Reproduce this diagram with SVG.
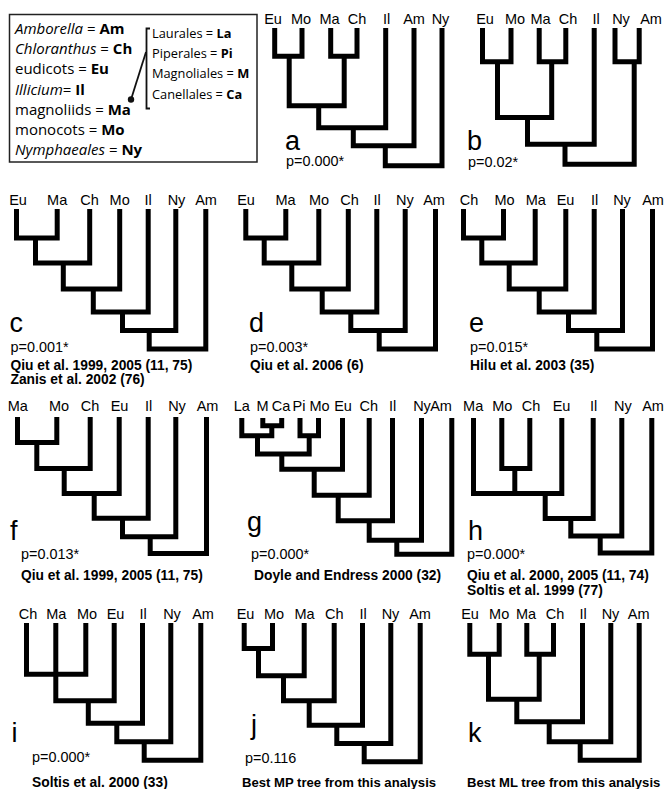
<svg xmlns="http://www.w3.org/2000/svg" width="665" height="789" viewBox="0 0 665 789">
<style>
.br{fill:none;stroke:#000;stroke-width:5;stroke-linejoin:miter;stroke-linecap:butt}
text{font-family:"Liberation Sans",Arial,Helvetica,sans-serif;fill:#000}
.lab{font-size:14.5px;text-anchor:middle}
.big{font-size:27px}
.pv{font-size:14.4px}
.cite{font-size:13.8px;font-weight:bold}
.cs{font-size:13.1px}
.leg{font-family:"Open Sans","Noto Sans",sans-serif;font-size:15px}
.legr{font-family:"Open Sans","Noto Sans",sans-serif;font-size:12.8px}
.it{font-style:italic}
.b{font-weight:bold}
.thin{fill:none;stroke:#111;stroke-width:1.8}
</style>
<rect width="665" height="789" fill="#fff"/>

<g id="legend">
<rect x="9.5" y="14.5" width="247.5" height="147.5" fill="none" stroke="#222" stroke-width="1.5"/>
<text class="leg" x="15" y="34"><tspan class="it">Amborella</tspan> = <tspan class="b">Am</tspan></text>
<text class="leg" x="15" y="54.2"><tspan class="it">Chloranthus</tspan> = <tspan class="b">Ch</tspan></text>
<text class="leg" x="15" y="74.4">eudicots = <tspan class="b">Eu</tspan></text>
<text class="leg" x="15" y="94.6"><tspan class="it">Illicium</tspan>= <tspan class="b">Il</tspan></text>
<text class="leg" x="15" y="114.8">magnoliids = <tspan class="b">Ma</tspan></text>
<text class="leg" x="15" y="135">monocots = <tspan class="b">Mo</tspan></text>
<text class="leg" x="15" y="155.2"><tspan class="it">Nymphaeales</tspan> = <tspan class="b">Ny</tspan></text>
<text class="legr" x="152" y="38.3">Laurales = <tspan class="b">La</tspan></text>
<text class="legr" x="152" y="58.3">Piperales = <tspan class="b">Pi</tspan></text>
<text class="legr" x="152" y="78.3">Magnoliales = <tspan class="b">M</tspan></text>
<text class="legr" x="152" y="98.6">Canellales = <tspan class="b">Ca</tspan></text>
</g>

<g id="connectors">
<path class="thin" d="M150 28.5 H146.5 V108.5 H150"/>
<path class="thin" stroke-width="2" d="M146 52 L131 99.5"/>
<circle cx="131" cy="99.5" r="3.2" fill="#111"/>
</g>

<g id="tree-a">
<g class="branches">
<path class="br" d="M274.7 28 V56.3 H302 V28"/>
<path class="br" d="M330.7 28 V56.3 H357 V28"/>
<path class="br" d="M289.2 56.3 V105.8 H344.2 V56.3"/>
<path class="br" d="M318.7 105.8 V127.8 H385.7 V28"/>
<path class="br" d="M353.3 127.8 V145.8 H414 V28"/>
<path class="br" d="M385.3 145.8 V165.7 H442 V28"/>
</g>
<text class="lab" x="273" y="23.5">Eu</text>
<text class="lab" x="301" y="23.5">Mo</text>
<text class="lab" x="329.5" y="23.5">Ma</text>
<text class="lab" x="357" y="23.5">Ch</text>
<text class="lab" x="386.5" y="23.5">Il</text>
<text class="lab" x="414" y="23.5">Am</text>
<text class="lab" x="440.5" y="23.5">Ny</text>
<text class="big" x="285" y="149.5">a</text>
<text class="pv" x="286" y="166">p=0.000*</text>
</g>

<g id="tree-b">
<g class="branches">
<path class="br" d="M482.5 28 V61.8 H511 V28"/>
<path class="br" d="M539.2 28 V61.8 H565.8 V28"/>
<path class="br" d="M615 28 V61.8 H639.2 V28"/>
<path class="br" d="M497.5 61.8 V117.5 H551.7 V61.8"/>
<path class="br" d="M527.5 117.5 V144.2 H594.2 V28"/>
<path class="br" d="M565 144.2 V164.2 H634.2 V61.8"/>
</g>
<text class="lab" x="485" y="23.5">Eu</text>
<text class="lab" x="515" y="23.5">Mo</text>
<text class="lab" x="540.5" y="23.5">Ma</text>
<text class="lab" x="568" y="23.5">Ch</text>
<text class="lab" x="596" y="23.5">Il</text>
<text class="lab" x="621" y="23.5">Ny</text>
<text class="lab" x="651" y="23.5">Am</text>
<text class="big" x="467" y="149.8">b</text>
<text class="pv" x="468" y="166.5">p=0.02*</text>
</g>

<g id="tree-c">
<g class="branches">
<path class="br" d="M16.5 209 V238 H57.2 V209"/>
<path class="br" d="M35.5 238 V263 H89.7 V209"/>
<path class="br" d="M63.3 263 V289 H119.7 V209"/>
<path class="br" d="M93.3 289 V312 H148.2 V209"/>
<path class="br" d="M122.5 312 V330.5 H175.8 V209"/>
<path class="br" d="M149.2 330.5 V349 H205.8 V209"/>
</g>
<text class="lab" x="18" y="204.5">Eu</text>
<text class="lab" x="57.2" y="204.5">Ma</text>
<text class="lab" x="89.5" y="204.5">Ch</text>
<text class="lab" x="119.7" y="204.5">Mo</text>
<text class="lab" x="148.2" y="204.5">Il</text>
<text class="lab" x="176.5" y="204.5">Ny</text>
<text class="lab" x="206" y="204.5">Am</text>
<text class="big" x="9.5" y="332">c</text>
<text class="pv" x="10.5" y="352">p=0.001*</text>
<text class="cite" x="10.5" y="370">Qiu et al. 1999, 2005 (11, 75)</text>
<text class="cite" x="10.5" y="383.5">Zanis et al. 2002 (76)</text>
</g>

<g id="tree-d">
<g class="branches">
<path class="br" d="M245.8 209 V238 H285.8 V209"/>
<path class="br" d="M264.2 238 V263 H318.8 V209"/>
<path class="br" d="M291.8 263 V289 H348.3 V209"/>
<path class="br" d="M322.2 289 V312 H376.8 V209"/>
<path class="br" d="M350.8 312 V330.5 H405.2 V209"/>
<path class="br" d="M379.2 330.5 V349 H435.5 V209"/>
</g>
<text class="lab" x="246" y="204.5">Eu</text>
<text class="lab" x="285.5" y="204.5">Ma</text>
<text class="lab" x="319" y="204.5">Mo</text>
<text class="lab" x="349.5" y="204.5">Ch</text>
<text class="lab" x="377" y="204.5">Il</text>
<text class="lab" x="404.8" y="204.5">Ny</text>
<text class="lab" x="434" y="204.5">Am</text>
<text class="big" x="249" y="332">d</text>
<text class="pv" x="250" y="352">p=0.003*</text>
<text class="cite" x="250" y="370">Qiu et al. 2006 (6)</text>
</g>

<g id="tree-e">
<g class="branches">
<path class="br" d="M463.5 209 V238 H503.5 V209"/>
<path class="br" d="M481.8 238 V263 H535.2 V209"/>
<path class="br" d="M509.2 263 V289 H565.8 V209"/>
<path class="br" d="M539.2 289 V312 H594.2 V209"/>
<path class="br" d="M568.5 312 V330.5 H622.5 V209"/>
<path class="br" d="M596.8 330.5 V349 H652.5 V209"/>
</g>
<text class="lab" x="469" y="204.5">Ch</text>
<text class="lab" x="504.5" y="204.5">Mo</text>
<text class="lab" x="535.8" y="204.5">Ma</text>
<text class="lab" x="565.5" y="204.5">Eu</text>
<text class="lab" x="594.5" y="204.5">Il</text>
<text class="lab" x="622" y="204.5">Ny</text>
<text class="lab" x="653" y="204.5">Am</text>
<text class="big" x="469" y="332">e</text>
<text class="pv" x="470" y="352">p=0.015*</text>
<text class="cite" x="470" y="370">Hilu et al. 2003 (35)</text>
</g>

<g id="tree-f">
<g class="branches">
<path class="br" d="M17.5 417 V442.5 H56.8 V417"/>
<path class="br" d="M36.8 442.5 V468.5 H90.2 V417"/>
<path class="br" d="M64.2 468.5 V493.5 H119.2 V417"/>
<path class="br" d="M94.2 493.5 V518.2 H148.2 V417"/>
<path class="br" d="M122.5 518.2 V536.8 H175.8 V417"/>
<path class="br" d="M150.2 536.8 V553.5 H206.5 V417"/>
</g>
<text class="lab" x="17.8" y="410.5">Ma</text>
<text class="lab" x="59" y="410.5">Mo</text>
<text class="lab" x="90" y="410.5">Ch</text>
<text class="lab" x="119.5" y="410.5">Eu</text>
<text class="lab" x="148.5" y="410.5">Il</text>
<text class="lab" x="177" y="410.5">Ny</text>
<text class="lab" x="207.5" y="410.5">Am</text>
<text class="big" x="10" y="540">f</text>
<text class="pv" x="21" y="559">p=0.013*</text>
<text class="cite" x="21" y="580">Qiu et al. 1999, 2005 (11, 75)</text>
</g>

<g id="tree-g">
<g class="branches">
<path class="br" d="M262.8 418 V425.8 H281.7 V418"/>
<path class="br" d="M241.8 418 V435.8 H271.8 V425.8"/>
<path class="br" d="M300 418 V435.8 H318.5 V418"/>
<path class="br" d="M257.5 435.8 V454 H309.2 V435.8"/>
<path class="br" d="M281.8 454 V469.2 H342.5 V418"/>
<path class="br" d="M314.2 469.2 V495.2 H369.2 V418"/>
<path class="br" d="M338.2 495.2 V520.8 H392.5 V418"/>
<path class="br" d="M369.2 520.8 V540.2 H421.5 V418"/>
<path class="br" d="M396.8 540.2 V554.2 H451.8 V418"/>
</g>
<text class="lab" x="241.7" y="410.5">La</text>
<text class="lab" x="262.5" y="410.5">M</text>
<text class="lab" x="281" y="410.5">Ca</text>
<text class="lab" x="299" y="410.5">Pi</text>
<text class="lab" x="319.5" y="410.5">Mo</text>
<text class="lab" x="343" y="410.5">Eu</text>
<text class="lab" x="368.7" y="410.5">Ch</text>
<text class="lab" x="392.5" y="410.5">Il</text>
<text class="lab" x="422" y="410.5">Ny</text>
<text class="lab" x="441" y="410.5">Am</text>
<text class="big" x="247" y="531">g</text>
<text class="pv" x="251" y="559">p=0.000*</text>
<text class="cite" x="254" y="580">Doyle and Endress 2000 (32)</text>
</g>

<g id="tree-h">
<g class="branches">
<path class="br" d="M501.8 418 V468.5 H529.8 V418"/>
<path class="br" d="M473.5 418 V493.5 H561.8 V418"/>
<path class="br" d="M514.8 468.5 V493.5"/>
<path class="br" d="M545.2 493.5 V518.5 H593.2 V418"/>
<path class="br" d="M570.8 518.5 V536 H621.8 V418"/>
<path class="br" d="M600.2 536 V553 H651.8 V418"/>
</g>
<text class="lab" x="473.2" y="410.5">Ma</text>
<text class="lab" x="502.3" y="410.5">Mo</text>
<text class="lab" x="531" y="410.5">Ch</text>
<text class="lab" x="561.5" y="410.5">Eu</text>
<text class="lab" x="593.5" y="410.5">Il</text>
<text class="lab" x="622.8" y="410.5">Ny</text>
<text class="lab" x="653" y="410.5">Am</text>
<text class="big" x="468" y="540">h</text>
<text class="pv" x="467" y="558.5">p=0.000*</text>
<text class="cite" x="467" y="580">Qiu et al. 2000, 2005 (11, 74)</text>
<text class="cite" x="467" y="595">Soltis et al. 1999 (77)</text>
</g>

<g id="tree-i">
<g class="branches">
<path class="br" d="M26.5 623 V674.2 H85.8 V623"/>
<path class="br" d="M55.8 623 V700.8 H114.2 V623"/>
<path class="br" d="M88.3 700.8 V723.2 H142.5 V623"/>
<path class="br" d="M116.8 723.2 V741.8 H170.8 V623"/>
<path class="br" d="M144.2 741.8 V760.2 H200.8 V623"/>
</g>
<text class="lab" x="28" y="618.5">Ch</text>
<text class="lab" x="56.3" y="618.5">Ma</text>
<text class="lab" x="87" y="618.5">Mo</text>
<text class="lab" x="115.5" y="618.5">Eu</text>
<text class="lab" x="143" y="618.5">Il</text>
<text class="lab" x="172" y="618.5">Ny</text>
<text class="lab" x="203" y="618.5">Am</text>
<text class="big" x="11.5" y="742">i</text>
<text class="pv" x="32" y="762">p=0.000*</text>
<text class="cite" x="32" y="786.5">Soltis et al. 2000 (33)</text>
</g>

<g id="tree-j">
<g class="branches">
<path class="br" d="M244.2 623 V648.5 H272.5 V623"/>
<path class="br" d="M258.5 648.5 V675.8 H304.2 V623"/>
<path class="br" d="M283.5 675.8 V700.8 H334.2 V623"/>
<path class="br" d="M309.2 700.8 V725.2 H362.5 V623"/>
<path class="br" d="M336.8 725.2 V743.5 H390.8 V623"/>
<path class="br" d="M364.2 743.5 V761.8 H420.2 V623"/>
</g>
<text class="lab" x="245.5" y="618.5">Eu</text>
<text class="lab" x="274" y="618.5">Mo</text>
<text class="lab" x="304.5" y="618.5">Ma</text>
<text class="lab" x="334.2" y="618.5">Ch</text>
<text class="lab" x="363" y="618.5">Il</text>
<text class="lab" x="390.5" y="618.5">Ny</text>
<text class="lab" x="420" y="618.5">Am</text>
<text class="big" x="251" y="734">j</text>
<text class="pv" x="245" y="763">p=0.116</text>
<text class="cite cs" x="242" y="786.5">Best MP tree from this analysis</text>
</g>

<g id="tree-k">
<g class="branches">
<path class="br" d="M469.8 623 V654.2 H499.2 V623"/>
<path class="br" d="M526.8 623 V654.2 H553.5 V623"/>
<path class="br" d="M488.5 654.2 V699.2 H539.2 V654.2"/>
<path class="br" d="M516.8 699.2 V721.8 H582.5 V623"/>
<path class="br" d="M549.2 721.8 V741.8 H610.8 V623"/>
<path class="br" d="M580.2 741.8 V760.2 H639.2 V623"/>
</g>
<text class="lab" x="470" y="618.5">Eu</text>
<text class="lab" x="499.2" y="618.5">Mo</text>
<text class="lab" x="526" y="618.5">Ma</text>
<text class="lab" x="555" y="618.5">Ch</text>
<text class="lab" x="583" y="618.5">Il</text>
<text class="lab" x="610.5" y="618.5">Ny</text>
<text class="lab" x="638.7" y="618.5">Am</text>
<text class="big" x="468" y="742">k</text>
<text class="cite cs" x="467" y="786.5">Best ML tree from this analysis</text>
</g>
</svg>
